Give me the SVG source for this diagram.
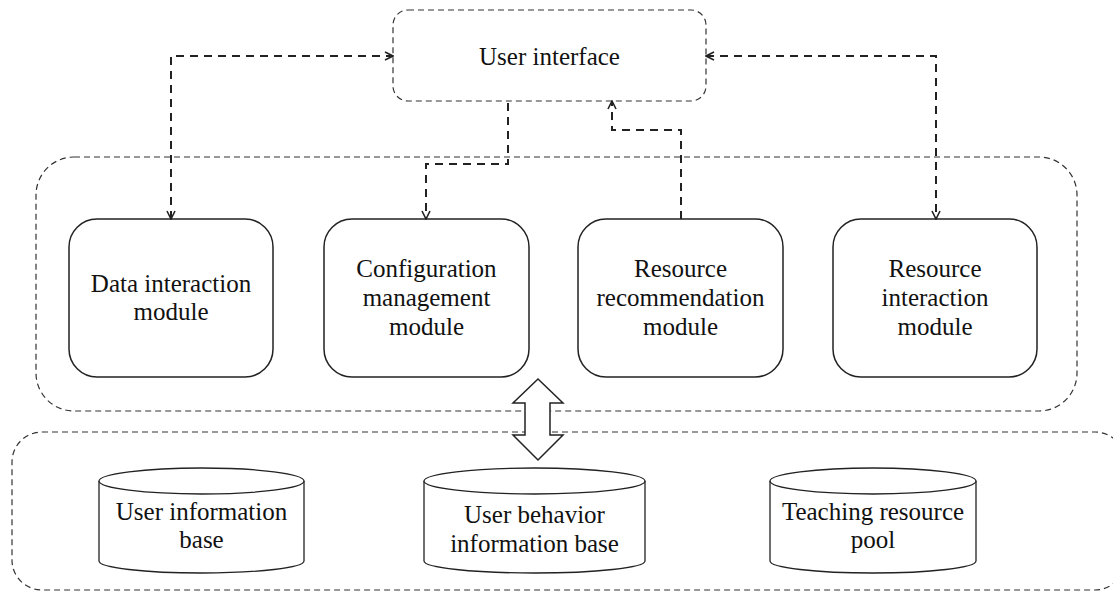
<svg xmlns="http://www.w3.org/2000/svg" width="1113" height="599" viewBox="0 0 1113 599">
<style>
.container{fill:none;stroke:#333;stroke-width:1.2;stroke-dasharray:6 4}
.module{fill:#fff;stroke:#222;stroke-width:1.5}
.cyl{fill:#fff;stroke:#222;stroke-width:1.3}
.conn{fill:none;stroke:#222;stroke-width:2;stroke-dasharray:8 6}
.t{font-family:'Liberation Serif','Times New Roman',serif;font-size:25px;fill:#111;text-anchor:middle}
</style>
<defs>
<marker id="arr" viewBox="0 0 10 10" refX="9" refY="5" markerWidth="10" markerHeight="10" markerUnits="userSpaceOnUse" orient="auto-start-reverse">
<path d="M1,1 L9,5 L1,9" fill="none" stroke="#222" stroke-width="1.6"/>
</marker>
</defs>
<rect width="1113" height="599" fill="#fff"/>

<g id="module-layer">
<rect class="container" x="36" y="157" width="1041" height="254" rx="38" ry="38"/>
</g>
<g id="data-layer">
<rect class="container" x="12" y="432" width="1113" height="158" rx="30" ry="30"/>
</g>

<g id="user-interface">
<rect x="393" y="10" width="313" height="91" rx="15" ry="15" fill="#fff" stroke="#333" stroke-width="1.2" stroke-dasharray="6 4"/>
<text class="t" x="549.5" y="65">User interface</text>
</g>

<g id="data-interaction">
<rect class="module" x="69" y="219" width="204" height="158" rx="28" ry="28"/>
<text class="t" x="171" y="292">Data interaction</text>
<text class="t" x="171" y="320">module</text>
</g>
<g id="configuration-management">
<rect class="module" x="324" y="219" width="205" height="158" rx="28" ry="28"/>
<text class="t" x="426.5" y="277">Configuration</text>
<text class="t" x="426.5" y="306">management</text>
<text class="t" x="426.5" y="335">module</text>
</g>
<g id="resource-recommendation">
<rect class="module" x="578" y="219" width="205" height="158" rx="28" ry="28"/>
<text class="t" x="680.5" y="277">Resource</text>
<text class="t" x="680.5" y="306">recommendation</text>
<text class="t" x="680.5" y="335">module</text>
</g>
<g id="resource-interaction">
<rect class="module" x="833" y="219" width="204" height="158" rx="28" ry="28"/>
<text class="t" x="935" y="277">Resource</text>
<text class="t" x="935" y="306">interaction</text>
<text class="t" x="935" y="335">module</text>
</g>

<g id="user-information-base">
<path class="cyl" d="M99,481 A102.5,13 0 0 1 304,481 V561 A102.5,12 0 0 1 99,561 Z"/>
<path class="cyl" d="M99,481 A102.5,13 0 0 0 304,481"/>
<text class="t" x="201.5" y="520">User information</text>
<text class="t" x="201.5" y="548">base</text>
</g>
<g id="user-behavior-information-base">
<path class="cyl" d="M424,481 A110.5,13 0 0 1 645,481 V561 A110.5,12 0 0 1 424,561 Z"/>
<path class="cyl" d="M424,481 A110.5,13 0 0 0 645,481"/>
<text class="t" x="534.5" y="523">User behavior</text>
<text class="t" x="534.5" y="552">information base</text>
</g>
<g id="teaching-resource-pool">
<path class="cyl" d="M770,481 A103,13 0 0 1 976,481 V561 A103,12 0 0 1 770,561 Z"/>
<path class="cyl" d="M770,481 A103,13 0 0 0 976,481"/>
<text class="t" x="873" y="520">Teaching resource</text>
<text class="t" x="873" y="548">pool</text>
</g>

<g id="connectors">
<path class="conn" d="M171,219 V56 H393" marker-start="url(#arr)" marker-end="url(#arr)"/>
<path class="conn" d="M508,103 V164 H426 V219" marker-end="url(#arr)"/>
<path class="conn" d="M681,219 V130 H612 V101" marker-end="url(#arr)"/>
<path class="conn" d="M706,56 H936 V219" marker-start="url(#arr)" marker-end="url(#arr)"/>
<polygon points="538,379 563,403 550,403 550,435 563,435 538,460 513,435 525,435 525,403 513,403" fill="#fff" stroke="#222" stroke-width="1.5"/>
</g>
</svg>
